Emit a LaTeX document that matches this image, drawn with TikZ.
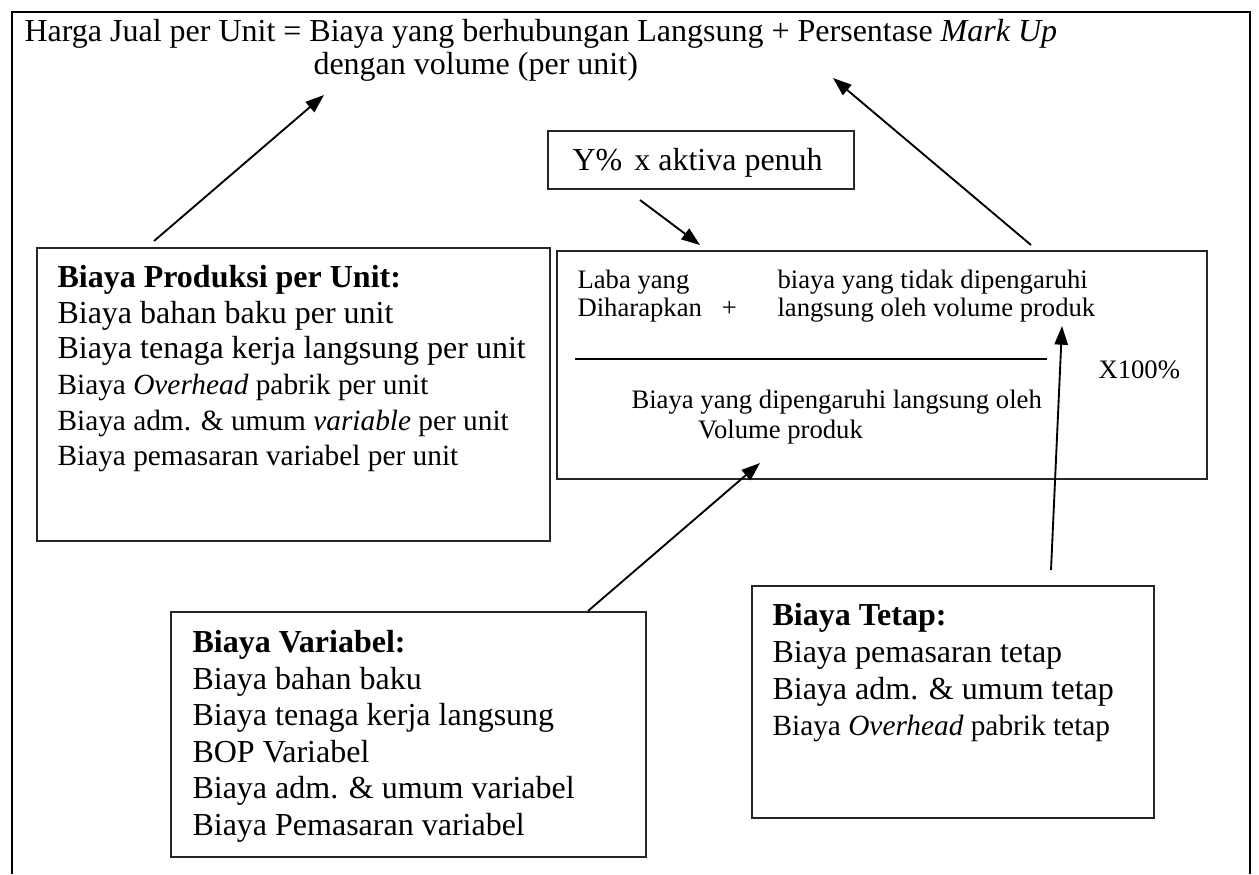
\documentclass[tikz,border=0pt]{standalone}
\usepackage{fontspec}
\setmainfont{Liberation Serif}
\usetikzlibrary{arrows.meta,positioning,calc}

\tikzset{
boxframe/.style={
  draw=black!85,
  line width=0.75pt,
  inner sep=0pt,
  anchor=north west
},
boxtext/.style={
  inner sep=0pt,
  anchor=north west,
  align=left,
  font=\fontsize{12}{13.5}\selectfont
},
formtext/.style={
  inner sep=0pt,
  align=left,
  font=\fontsize{10}{10.5}\selectfont
},
titletext/.style={
  inner sep=0pt,
  anchor=base west,
  font=\fontsize{12}{13.5}\selectfont
},
arrow/.style={
  -{Triangle[length=7pt,width=5pt]},
  line width=0.7pt
},
fracline/.style={
  line width=0.7pt
},
outerframe/.style={
  line width=1.1pt
}
}

\newcommand{\smallline}[1]{{\fontsize{11}{13.5}\selectfont #1}}

\begin{document}
\begin{tikzpicture}[x=0.375pt, y=-0.375pt]
  \useasboundingbox (0,0) rectangle (1259,874);
  % outer frame, open at the bottom
  \draw[outerframe] (12,874) -- (12,12) -- (1250,12) -- (1250,874);

  % heading
  \node[titletext] (title) at (24,41)
    {Harga Jual per Unit = Biaya yang berhubungan Langsung + Persentase \textit{Mark Up}};
  \node[titletext] (titlesub) at (313,74) {dengan volume (per unit)};

  % boxes
  \node[boxframe, minimum width=114.75pt, minimum height=21.75pt] (ybox) at (547,130) {};
  \node[inner sep=0pt, anchor=base west, font=\fontsize{12}{13.5}\selectfont] (ytext) at (572,170)
    {Y\%\hspace{4.5pt}x aktiva penuh};

  \node[boxframe, minimum width=192.4pt, minimum height=109.9pt] (prod) at (36,247) {};
  \node[boxtext, font=\fontsize{12}{13.35}\selectfont] (prodtext) at (57,265) {%
    \textbf{Biaya Produksi per Unit:}\\
    Biaya bahan baku per unit\\
    Biaya tenaga kerja langsung per unit\\
    \smallline{Biaya \textit{Overhead} pabrik per unit}\\
    \smallline{Biaya adm. \& umum \textit{variable} per unit}\\
    \smallline{Biaya pemasaran variabel per unit}};

  \node[boxframe, minimum width=243.75pt, minimum height=85.5pt] (form) at (556,250) {};
  \node[formtext, anchor=north west] (laba) at (577,269) {Laba yang\\Diharapkan\hspace{7.5pt}+};
  \node[formtext, anchor=north west] (tidak) at (777,269)
    {biaya yang tidak dipengaruhi\\langsung oleh volume produk};
  \node[formtext, anchor=base west] (kali) at (1098,378) {X100\%};
  \node[formtext, anchor=north west, font=\fontsize{10}{11.6}\selectfont] (penyebut) at (631,389)
    {Biaya yang dipengaruhi langsung oleh\\\hspace*{25pt}Volume produk};
  \path (form.north west) ++(19,109) coordinate (fracl) ++(472,0) coordinate (fracr);
  \draw[fracline] (fracl) -- (fracr);

  \node[boxframe, minimum width=178.1pt, minimum height=91.9pt] (var) at (170,611) {};
  \node[boxtext, font=\fontsize{12}{13.7}\selectfont] (vartext) at (192,630) {%
    \textbf{Biaya Variabel:}\\
    Biaya bahan baku\\
    Biaya tenaga kerja langsung\\
    BOP Variabel\\
    Biaya adm. \& umum variabel\\
    Biaya Pemasaran variabel};

  \node[boxframe, minimum width=150.75pt, minimum height=87pt] (tetap) at (751,585) {};
  \node[boxtext, font=\fontsize{12}{13.75}\selectfont] (tetaptext) at (772,603) {%
    \textbf{Biaya Tetap:}\\
    Biaya pemasaran tetap\\
    Biaya adm. \& umum tetap\\
    \smallline{Biaya \textit{Overhead} pabrik tetap}};

  % arrow ends
  \path (prod.north west) ++(118,-6) coordinate (prodout);
  \path (titlesub.base west) ++(11,21) coordinate (subin);
  \path (form.north west) ++(475,-5) coordinate (formout);
  \path (title.base west) ++(809,37) coordinate (titlein);
  \path (ybox.south west) ++(93,10) coordinate (yout);
  \path (form.north west) ++(144,-5) coordinate (formin);
  \path (var.north west) ++(418,0) coordinate (varout);
  \path (form.north west) ++(204,213) coordinate (forminlow);
  \path (tetap.north west) ++(300,-15) coordinate (tetapout);
  \path (form.north west) ++(506,76) coordinate (formintop);

  \draw[arrow] (prodout) -- (subin);
  \draw[arrow] (formout) -- (titlein);
  \draw[arrow] (yout) -- (formin);
  \draw[arrow] (varout) -- (forminlow);
  \draw[arrow] (tetapout) -- (formintop);
\end{tikzpicture}
\end{document}
